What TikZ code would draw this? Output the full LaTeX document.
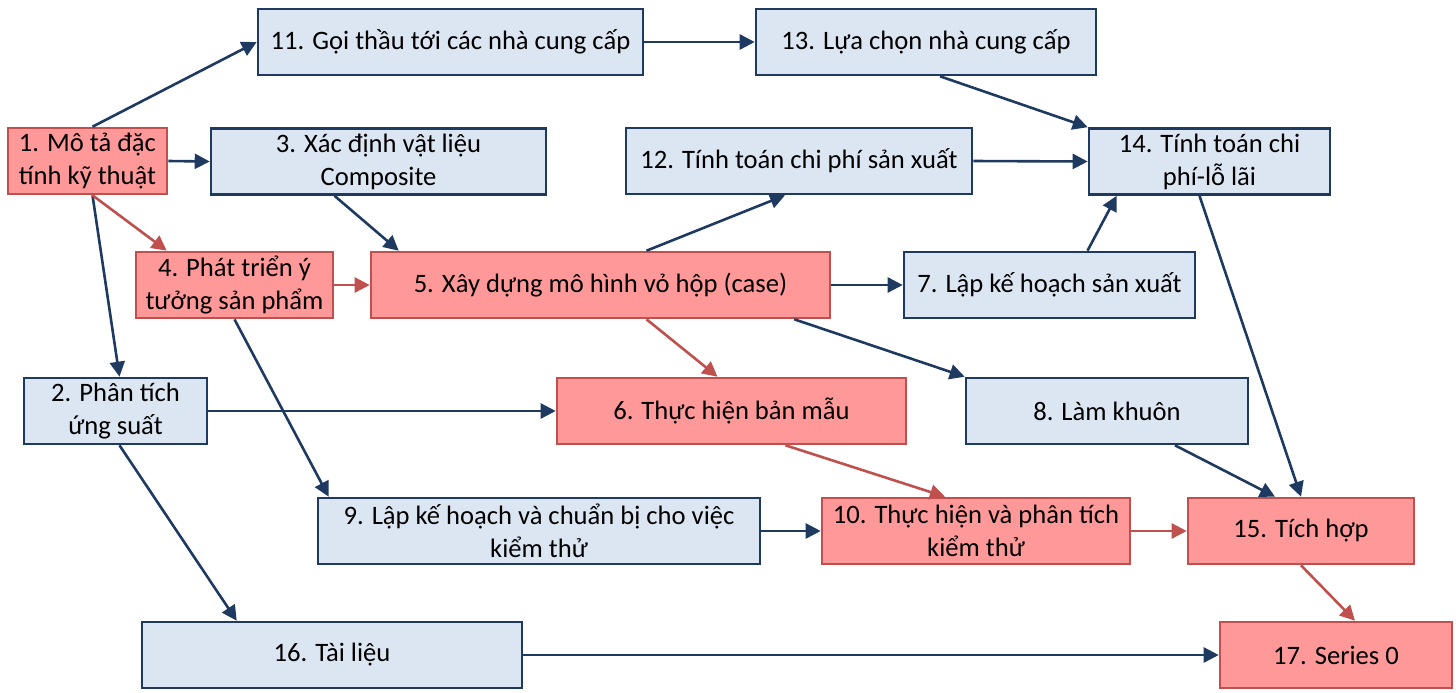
\documentclass[tikz,border=0pt]{standalone}
\usepackage{fontspec}
\setmainfont{Carlito}
\usetikzlibrary{arrows.meta}

\definecolor{boxblue}{HTML}{DCE6F2}
\definecolor{lineblue}{HTML}{1F3A60}
\definecolor{boxred}{HTML}{FF9999}
\definecolor{linered}{HTML}{C0504D}

\begin{document}
\begin{tikzpicture}[x=0.5pt,y=-0.5pt,
  task/.style={draw,line width=1.3pt,align=center,inner sep=2pt,minimum height=33pt,
    font=\fontsize{13.3}{16.5}\selectfont},
  plain/.style={task,draw=lineblue,fill=boxblue},
  crit/.style={task,draw=linered,fill=boxred},
  link/.style={->,>={Triangle[length=7.5pt,width=7.5pt]},line width=1.3pt}]
\useasboundingbox (0,0) rectangle (1456,692);

% top rows
\node[crit,minimum width=79.5pt] (N1) at (87.5,161) {1. Mô tả đặc\\tính kỹ thuật};
\node[plain,minimum width=167.5pt] (N3) at (378.5,161.5) {3. Xác định vật liệu\\Composite};
\node[plain,minimum width=192.5pt] (N11) at (450.5,42) {11. Gọi thầu tới các nhà cung cấp};
\node[plain,minimum width=170pt] (N13) at (926,42) {13. Lựa chọn nhà cung cấp};
\node[plain,minimum width=173pt] (N12) at (799,161) {12. Tính toán chi phí sản xuất};
\node[plain,minimum width=120.5pt] (N14) at (1209.5,161.5) {14. Tính toán chi\\phí-lỗ lãi};

% middle
\node[crit,minimum width=98.5pt] (N4) at (234.5,285) {4. Phát triển ý\\tưởng sản phẩm};
\node[crit,minimum width=229.5pt] (N5) at (600.5,285) {5. Xây dựng mô hình vỏ hộp (case)};
\node[plain,minimum width=145.5pt] (N7) at (1049.5,285) {7. Lập kế hoạch sản xuất};
\node[plain,minimum width=91.5pt] (N2) at (115.5,411) {2. Phân tích\\ứng suất};
\node[crit,minimum width=174.5pt] (N6) at (731.5,411) {6. Thực hiện bản mẫu};
\node[plain,minimum width=141pt] (N8) at (1107,411) {8. Làm khuôn};

% bottom
\node[plain,minimum width=221pt] (N9) at (539,531) {9. Lập kế hoạch và chuẩn bị cho việc\\kiểm thử};
\node[crit,minimum width=154pt] (N10) at (976,531) {10. Thực hiện và phân tích\\kiểm thử};
\node[crit,minimum width=113pt] (N15) at (1301,531) {15. Tích hợp};
\node[plain,minimum width=190pt] (N16) at (332,655) {16. Tài liệu};
\node[crit,minimum width=116pt] (N17) at (1336,655) {17. Series 0};

\path [link,color=lineblue]
  ([xshift=2.5pt]N1.north) edge (N11.west)
  (N1.east) edge (N3.west)
  ([xshift=2.5pt]N1.south) edge ([xshift=2pt]N2.north)
  ([xshift=-22pt]N3.south) edge ([xshift=14.5pt]N5.north west)
  (N4.south) edge ([xshift=6pt]N9.north west)
  ([xshift=23pt]N5.north) edge ([xshift=-7pt]N12.south)
  (N5.east) edge (N7.west)
  ([xshift=-18.5pt]N5.south east) edge (N8.north west)
  (N2.east) edge (N6.west)
  ([xshift=2pt]N2.south) edge ([xshift=48pt]N16.north west)
  (N9.east) edge (N10.west)
  ([xshift=34pt]N8.south) edge ([xshift=-13pt]N15.north)
  ([xshift=-5pt]N14.south) edge (N15.north)
  (N16.east) edge (N17.west)
  (N11.east) edge (N13.west)
  ([xshift=7pt]N13.south) edge (N14.north west)
  (N12.east) edge (N14.west)
  ([xshift=19pt]N7.north) edge ([xshift=14.5pt]N14.south west);

\path [link,color=linered]
  ([xshift=2.5pt]N1.south) edge ([xshift=16pt]N4.north west)
  (N4.east) edge (N5.west)
  ([xshift=23pt]N5.south) edge ([xshift=-7pt]N6.north)
  ([xshift=27pt]N6.south) edge ([xshift=-15.5pt]N10.north)
  (N10.east) edge (N15.west)
  (N15.south) edge ([xshift=9.5pt]N17.north);
\end{tikzpicture}
\end{document}
